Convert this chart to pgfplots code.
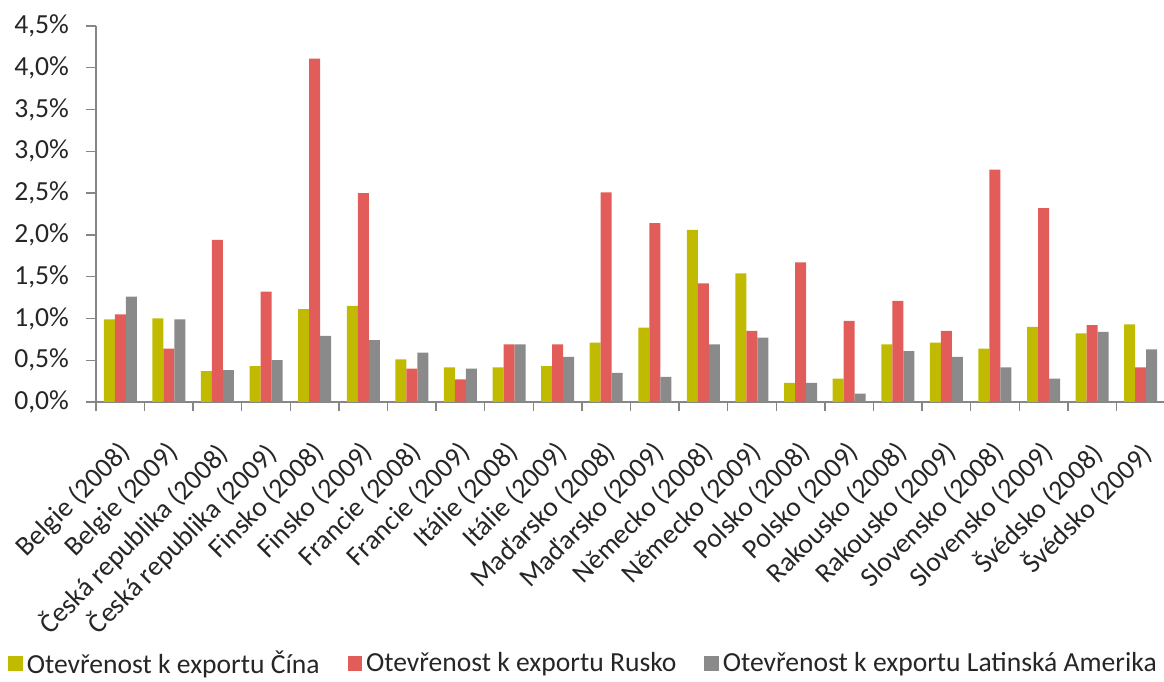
\documentclass[border=0pt]{standalone}
\usepackage{pgfplots}
\usepackage{pgfplotstable}
\pgfplotsset{compat=1.18}
\usepackage{fontspec}
\setmainfont{Carlito}
\definecolor{cyel}{RGB}{192,187,0}
\definecolor{cred}{RGB}{226,93,89}
\definecolor{cgray}{RGB}{138,138,138}
\definecolor{caxis}{RGB}{134,134,134}
\pgfplotstableread{
x china rusko latam
0 0.99 1.05 1.26
1 1.00 0.64 0.99
2 0.37 1.94 0.38
3 0.43 1.32 0.50
4 1.11 4.11 0.79
5 1.15 2.50 0.74
6 0.51 0.40 0.59
7 0.415 0.27 0.40
8 0.415 0.69 0.69
9 0.43 0.69 0.54
10 0.71 2.51 0.35
11 0.89 2.14 0.30
12 2.06 1.42 0.69
13 1.54 0.85 0.77
14 0.23 1.67 0.23
15 0.28 0.97 0.10
16 0.69 1.21 0.61
17 0.71 0.85 0.54
18 0.64 2.78 0.415
19 0.90 2.32 0.28
20 0.82 0.92 0.84
21 0.93 0.415 0.63
}\datatable
\begin{document}
\begin{tikzpicture}
\begin{axis}[
  scale only axis, width=534.5pt, height=188pt,
  ybar=0pt, bar width=5.5pt,
  xmin=-0.5, xmax=21.5, ymin=0, ymax=4.5,
  enlarge x limits=false,
  axis lines*=left,
  axis line style={caxis, line width=0.7pt},
  tick style={caxis, line width=0.7pt},
  tick align=outside,
  xtick={0,...,21},
  xticklabels={Belgie (2008),Belgie (2009),Česká republika (2008),Česká republika (2009),Finsko (2008),Finsko (2009),Francie (2008),Francie (2009),Itálie (2008),Itálie (2009),Maďarsko (2008),Maďarsko (2009),Německo (2008),Německo (2009),Polsko (2008),Polsko (2009),Rakousko (2008),Rakousko (2009),Slovensko (2008),Slovensko (2009),Švédsko (2008),Švédsko (2009)},
  major x tick style={draw=none},
  minor xtick={-0.5,0.5,...,21.5},
  minor tick length=4.5pt,
  major tick length=5pt,
  ytick={0,0.5,1,1.5,2,2.5,3,3.5,4,4.5},
  yticklabel={\pgfmathprintnumber[fixed,fixed zerofill,precision=1,use comma,assume math mode=true]{\tick}\%},
  yticklabel style={font=\fontsize{13.8}{16}\selectfont, color=black!85, xshift=-5pt},
  xticklabel style={font=\fontsize{13.8}{16}\selectfont, color=black!85, xshift=-1.8pt, yshift=-13.5pt, rotate=45, anchor=north east, inner sep=0pt},
  legend style={at={(axis description cs:-0.0823,-0.695)}, anchor=west, draw=none, fill=none, inner sep=0pt,
    font=\fontsize{13.8}{16}\selectfont, text=black!85,
    /tikz/every even column/.append style={column sep=12pt}},
  legend columns=-1,
  legend image code/.code={\fill[#1] (0pt,-3.6pt) rectangle (7.2pt,3.6pt);},
]
\addplot[fill=cyel, draw=none] table[x=x,y=china] {\datatable};
\addplot[fill=cred, draw=none] table[x=x,y=rusko] {\datatable};
\addplot[fill=cgray, draw=none] table[x=x,y=latam] {\datatable};
\legend{Otevřenost k exportu Čína, Otevřenost k exportu Rusko, Otevřenost k exportu Latinská Amerika}
\coordinate (ll) at (rel axis cs:0,0);
\coordinate (ur) at (rel axis cs:1,1);
\end{axis}
\pgfresetboundingbox
\path ([shift={(-48pt,-140pt)}]ll) rectangle ([shift={(-0.5pt,13pt)}]ur);
\end{tikzpicture}
\end{document}
